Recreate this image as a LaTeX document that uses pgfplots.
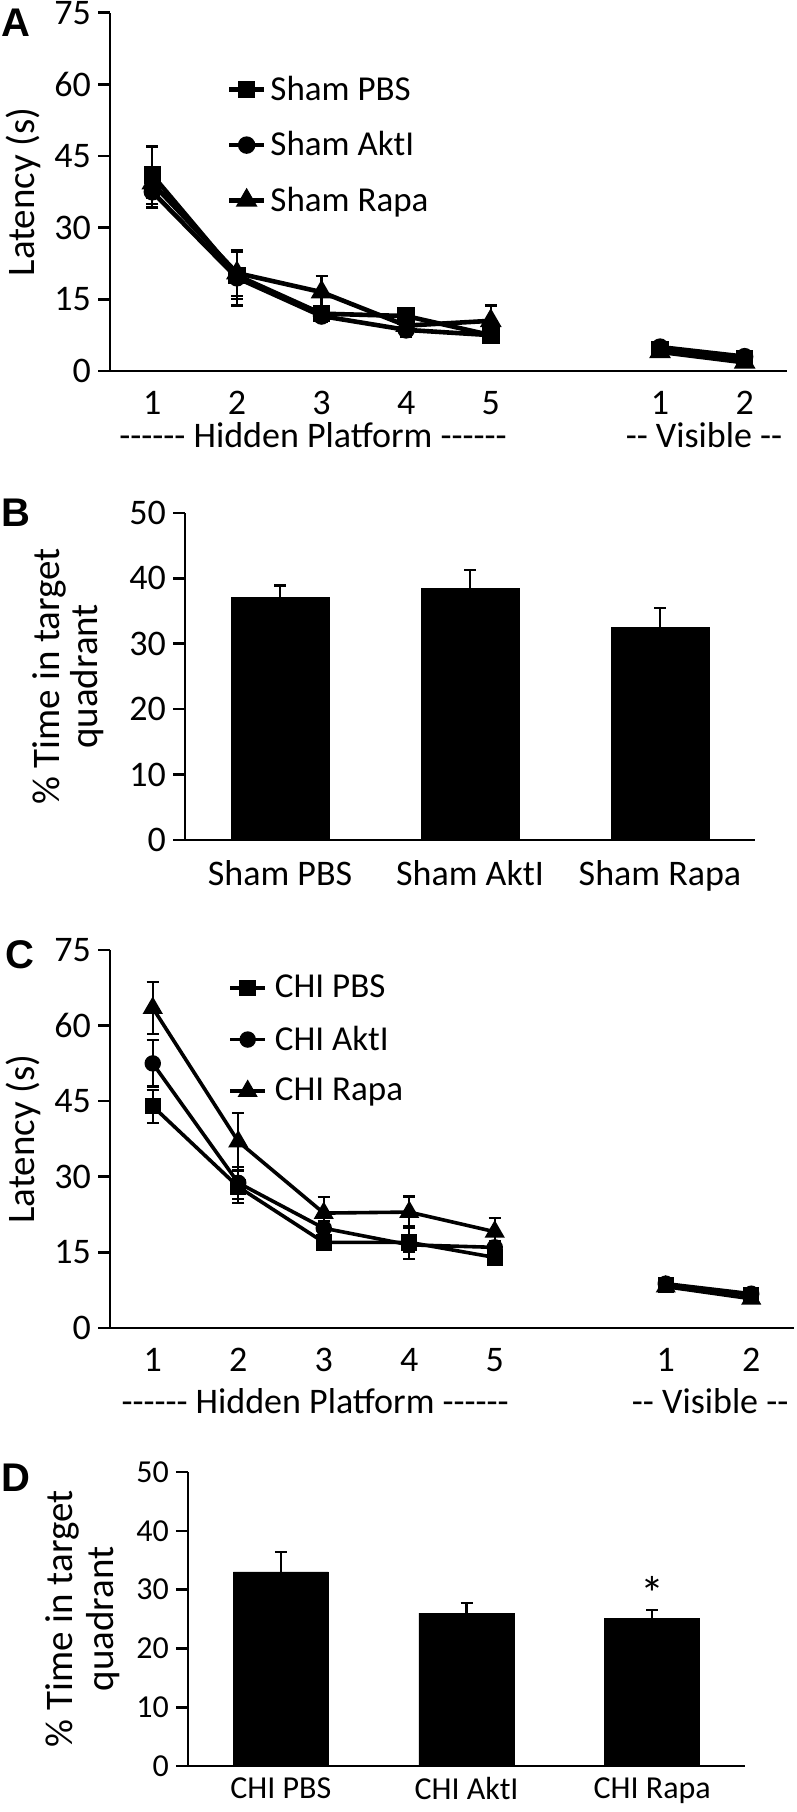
\documentclass[border=0pt]{standalone}
\usepackage{fontspec}
\setmainfont{Carlito}[Ligatures=TeXOff]
\newfontfamily\letterfont{Liberation Sans}
\usepackage{pgfplots}
\pgfplotsset{compat=1.18}
\tikzset{grp/.style={font=\fontsize{18}{18}\selectfont, inner sep=0pt}}
\pgfplotsset{
  base/.style={
    scale only axis, anchor=south west, clip=false,
    axis x line=bottom, axis y line=left,
    axis line style={-, line width=1.3pt, black},
    tick align=outside, major tick length=6pt,
    tick style={black, line width=1.3pt},
    every major x tick/.append style={draw=none},
    /pgf/number format/assume math mode=true,
    tick label style={font=\fontsize{18}{18}\selectfont, text=black},
    xticklabel style={inner ysep=2pt, yshift=-2pt},
  },
  ylab/.style={every axis y label/.style={at={(axis description cs:#1,0.5)}, rotate=90, anchor=center, align=center, font=\fontsize{19.5}{19}\selectfont}},
  ser/.style={black, line width=2.3pt, mark=#1, mark size=3.2pt, mark options={solid, fill=black}},
  eb/.style={error bars/.cd, y dir=both, y explicit, error bar style={line width=1.1pt, black}, error mark options={rotate=90, mark size=3pt, line width=1.1pt, black}},
  ebb/.style={error bars/.cd, y dir=plus, y explicit, error bar style={line width=1.3pt, black}, error mark options={rotate=90, mark size=3pt, line width=1.3pt, black}},
  leg/.style 2 args={
    legend cell align=left,
    legend style={at={#1}, anchor=north west, draw=none, fill=none, inner sep=0pt, row sep=#2, font=\fontsize{17.5}{17.5}\selectfont},
    legend image code/.code={\draw[mark repeat=2, mark phase=2] plot coordinates {(0pt,0pt) (8.75pt,0pt) (17.5pt,0pt)};},
  },
}
\begin{document}
\begin{tikzpicture}
\useasboundingbox (0,0) rectangle (398.5pt,906pt);

% ---------------- Panel A ----------------
\begin{axis}[base, at={(55pt,720.5pt)}, width=338.5pt, height=179.2pt,
  xmin=0.5, xmax=8.5, ymin=0, ymax=75, ytick={0,15,30,45,60,75},
  xtick={1,2,3,4,5,7,8}, xticklabels={1,2,3,4,5,1,2},
  ylab=-0.1285, ylabel={Latency (s)}, leg={(0.172,0.835)}{10pt}]
\addplot[ser=square*, eb] coordinates {(1,41) +- (0,6) (2,20) +- (0,5) (3,12) +- (0,1.5) (4,11.5) +- (0,1.5) (5,7.5) +- (0,1.2)};
\addlegendentry{Sham PBS}
\addplot[ser=*, eb] coordinates {(1,37.5) +- (0,3.3) (2,19.5) +- (0,5.8) (3,11.5) +- (0,1.2) (4,8.6) +- (0,1.5) (5,7.5) +- (0,1.2)};
\addlegendentry{Sham AktI}
\addplot[ser=triangle*, mark size=4pt, eb] coordinates {(1,39.3) +- (0,3) (2,20.5) +- (0,4.8) (3,16.5) +- (0,3.3) (4,9.5) +- (0,1.5) (5,10.5) +- (0,3.2)};
\addlegendentry{Sham Rapa}
\addplot[ser=square*, forget plot, eb] coordinates {(7,4.5) +- (0,0.8) (8,2.5) +- (0,0.8)};
\addplot[ser=*, forget plot, eb] coordinates {(7,5) +- (0,0.8) (8,3) +- (0,0.8)};
\addplot[ser=triangle*, mark size=4pt, forget plot, eb] coordinates {(7,4) +- (0,0.8) (8,1.8) +- (0,0.7)};
\node[grp] at (axis cs:2.9,0) [yshift=-32pt] {------ Hidden Platform ------};
\node[grp] at (axis cs:7.52,0) [yshift=-32pt] {-- Visible --};
\end{axis}

% ---------------- Panel B ----------------
\begin{axis}[base, at={(92.5pt,486pt)}, width=285pt, height=163.5pt,
  xmin=0.5, xmax=3.5, ymin=0, ymax=50, ytick={0,10,...,50},
  xtick={1,2,3}, xticklabels={Sham PBS, Sham AktI, Sham Rapa},
  ylab=-0.205, ylabel={\% Time in target\\quadrant}]
\addplot[ybar, bar width=49pt, fill=black, draw=black, ebb] coordinates {(1,37.1) +- (0,1.8) (2,38.4) +- (0,2.9) (3,32.5) +- (0,3.0)};
\end{axis}

% ---------------- Panel C ----------------
\begin{axis}[base, at={(55pt,242pt)}, width=342pt, height=189pt,
  xmin=0.5, xmax=8.5, ymin=0, ymax=75, ytick={0,15,30,45,60,75},
  xtick={1,2,3,4,5,7,8}, xticklabels={1,2,3,4,5,1,2},
  ylab=-0.127, ylabel={Latency (s)}, leg={(0.1725,0.945)}{8.5pt},
  legend style={nodes={inner xsep=4pt}}]
\addplot[ser=square*, line width=1.8pt, eb] coordinates {(1,44) +- (0,3.3) (2,28) +- (0,3.2) (3,17) +- (0,1.2) (4,17) +- (0,3.3) (5,14) +- (0,1.2)};
\addlegendentry{CHI PBS}
\addplot[ser=*, line width=1.8pt, eb] coordinates {(1,52.5) +- (0,4.6) (2,28.8) +- (0,3.2) (3,19.8) +- (0,1.5) (4,16.5) +- (0,1.5) (5,16) +- (0,1.3)};
\addlegendentry{CHI AktI}
\addplot[ser=triangle*, line width=1.8pt, mark size=4pt, eb] coordinates {(1,63.5) +- (0,5.2) (2,37) +- (0,5.6) (3,22.8) +- (0,3.2) (4,23) +- (0,3.1) (5,19.1) +- (0,2.7)};
\addlegendentry{CHI Rapa}
\addplot[ser=square*, line width=1.8pt, forget plot, eb] coordinates {(7,8.5) +- (0,0.6) (8,6.5) +- (0,0.8)};
\addplot[ser=*, line width=1.8pt, forget plot, eb] coordinates {(7,8.8) +- (0,0.6) (8,6.8) +- (0,0.8)};
\addplot[ser=triangle*, line width=1.8pt, mark size=4pt, forget plot, eb] coordinates {(7,8.2) +- (0,0.6) (8,5.8) +- (0,0.8)};
\node[grp] at (axis cs:2.9,0) [yshift=-36.5pt] {------ Hidden Platform ------};
\node[grp] at (axis cs:7.52,0) [yshift=-36.5pt] {-- Visible --};
\end{axis}

% ---------------- Panel D ----------------
\begin{axis}[base, at={(94pt,23pt)}, width=278.5pt, height=147pt,
  xmin=0.5, xmax=3.5, ymin=0, ymax=50, ytick={0,10,...,50},
  tick label style={font=\fontsize{16}{16}\selectfont},
  xticklabel style={inner ysep=0pt, yshift=2.5pt},
  xtick={1,2,3}, xticklabels={CHI PBS, CHI AktI, CHI Rapa},
  ylab=-0.1894, ylabel={\% Time in target\\quadrant},
  every axis y label/.append style={font=\fontsize{19.5}{20.5}\selectfont}]
\addplot[ybar, bar width=47.5pt, fill=black, draw=black, ebb] coordinates {(1,33.0) +- (0,3.4) (2,26.0) +- (0,1.7) (3,25.1) +- (0,1.4)};
\node[font=\fontsize{24}{24}\selectfont, anchor=base, yshift=0pt] at (axis cs:3,26.5) {*};
\end{axis}

\node[font={\fontsize{20}{20}\selectfont\letterfont\bfseries}] at (8pt,894.5pt) {A};
\node[font={\fontsize{20}{20}\selectfont\letterfont\bfseries}] at (8pt,649.5pt) {B};
\node[font={\fontsize{20}{20}\selectfont\letterfont\bfseries}] at (10pt,428.5pt) {C};
\node[font={\fontsize{20}{20}\selectfont\letterfont\bfseries}] at (8pt,167pt) {D};
\end{tikzpicture}
\end{document}
